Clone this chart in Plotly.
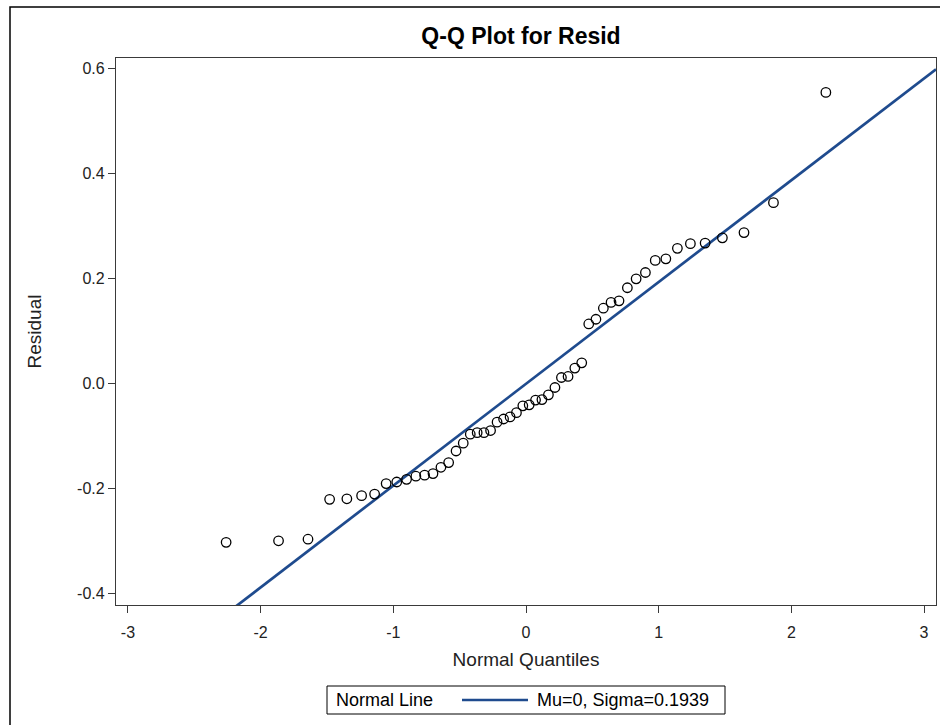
import plotly.graph_objects as go

# Normal quantiles (x) and sorted residuals (y)
normal_quantiles = [
    -2.260, -1.865, -1.643, -1.480, -1.350, -1.239, -1.141, -1.054, -0.974, -0.900,
    -0.830, -0.764, -0.701, -0.641, -0.583, -0.527, -0.473, -0.420, -0.368, -0.317,
    -0.267, -0.218, -0.169, -0.120, -0.072, -0.024,
    0.024, 0.072, 0.120, 0.169, 0.218, 0.267, 0.317, 0.368, 0.420, 0.473,
    0.527, 0.583, 0.641, 0.701, 0.764, 0.830, 0.900, 0.974, 1.054, 1.141,
    1.239, 1.350, 1.480, 1.643, 1.865, 2.260,
]
residuals = [
    -0.302, -0.299, -0.296, -0.220, -0.219, -0.213, -0.210, -0.190, -0.187, -0.182,
    -0.176, -0.174, -0.171, -0.159, -0.150, -0.128, -0.113, -0.096, -0.093, -0.093,
    -0.089, -0.073, -0.067, -0.063, -0.055, -0.042,
    -0.040, -0.031, -0.030, -0.021, -0.007, 0.012, 0.014, 0.030, 0.040, 0.114,
    0.123, 0.144, 0.155, 0.158, 0.183, 0.200, 0.212, 0.235, 0.238, 0.258,
    0.267, 0.268, 0.278, 0.288, 0.345, 0.555,
]

NORMAL_MU = 0.0
NORMAL_SIGMA = 0.1939
legend_title = "Normal Line"
legend_label = "Mu=0, Sigma=0.1939"

x_tick_vals = [-3, -2, -1, 0, 1, 2, 3]
x_tick_text = ["-3", "-2", "-1", "0", "1", "2", "3"]
y_tick_vals = [-0.4, -0.2, 0.0, 0.2, 0.4, 0.6]
y_tick_text = ["-0.4", "-0.2", "0.0", "0.2", "0.4", "0.6"]

x_range = [-3.09, 3.09]
y_range = [-0.4213, 0.6206]

line_x = x_range
line_y = [NORMAL_MU + NORMAL_SIGMA * v for v in line_x]

FONT = "Liberation Sans, Arial, sans-serif"
TEXT = "#222222"
AXIS = "#3a3a3a"
LINE_COLOR = "#1f4b8e"

fig = go.Figure()

fig.add_trace(go.Scatter(
    x=line_x, y=line_y, mode="lines",
    line=dict(color=LINE_COLOR, width=2.7),
    name=legend_label,
    showlegend=False,
    hoverinfo="skip",
))

fig.add_trace(go.Scatter(
    x=normal_quantiles, y=residuals, mode="markers",
    marker=dict(symbol="circle-open", size=9.5, color="black",
                line=dict(color="black", width=1.3)),
    showlegend=False,
    name="Resid",
))

W, H = 940, 725
L, R, T, B = 116, 4, 58, 120
pw = W - L - R
ph = H - T - B


def px_x(px):
    return (px - L) / pw


def px_y(py):
    return (H - B - py) / ph


# legend box drawn with shapes/annotations (pixel layout)
LEG_L, LEG_R, LEG_T, LEG_B = 327, 725, 686, 714
LEG_CY = (LEG_T + LEG_B) / 2

fig.update_layout(
    width=W, height=H,
    margin=dict(l=L, r=R, t=T, b=B, autoexpand=False),
    paper_bgcolor="white",
    plot_bgcolor="white",
    font=dict(family=FONT, size=16, color=TEXT),
    showlegend=False,
    title=dict(
        text="<b>Q-Q Plot for Resid</b>",
        x=px_x(521), xref="paper", xanchor="center",
        y=1 - 36 / H, yref="container", yanchor="middle",
        font=dict(family=FONT, size=23, color="black"),
    ),
    xaxis=dict(
        range=x_range,
        tickvals=x_tick_vals, ticktext=x_tick_text,
        ticks="outside", ticklen=7, tickwidth=1, tickcolor=AXIS,
        ticklabelstandoff=6,
        showline=True, linecolor=AXIS, linewidth=1.2, mirror=True,
        showgrid=False, zeroline=False,
        tickfont=dict(family=FONT, size=16, color=TEXT),
        title=dict(text="Normal Quantiles", standoff=12,
                   font=dict(family=FONT, size=19, color=TEXT)),
    ),
    yaxis=dict(
        range=y_range,
        tickvals=y_tick_vals, ticktext=y_tick_text,
        ticks="outside", ticklen=7, tickwidth=1, tickcolor=AXIS,
        showline=True, linecolor=AXIS, linewidth=1.2, mirror=True,
        showgrid=False, zeroline=False,
        tickfont=dict(family=FONT, size=16, color=TEXT),
        title=dict(text="Residual", standoff=30,
                   font=dict(family=FONT, size=19, color=TEXT)),
    ),
    shapes=[
        # outer frame of the graph
        dict(type="rect", xref="paper", yref="paper",
             x0=px_x(10), x1=px_x(960), y0=px_y(760), y1=px_y(7),
             line=dict(color="black", width=1.5), fillcolor="rgba(0,0,0,0)",
             layer="below"),
        # legend box
        dict(type="rect", xref="paper", yref="paper",
             x0=px_x(LEG_L), x1=px_x(LEG_R), y0=px_y(LEG_B), y1=px_y(LEG_T),
             line=dict(color="black", width=1), fillcolor="white"),
        # legend line sample
        dict(type="line", xref="paper", yref="paper",
             x0=px_x(462), x1=px_x(528), y0=px_y(LEG_CY), y1=px_y(LEG_CY),
             line=dict(color=LINE_COLOR, width=2.7)),
    ],
    annotations=[
        dict(text=legend_title, xref="paper", yref="paper",
             x=px_x(334), y=px_y(LEG_CY), xanchor="left", yanchor="middle",
             showarrow=False, font=dict(family=FONT, size=18, color="black")),
        dict(text=legend_label, xref="paper", yref="paper",
             x=px_x(535), y=px_y(LEG_CY), xanchor="left", yanchor="middle",
             showarrow=False, font=dict(family=FONT, size=18, color="black")),
    ],
)

fig.write_html("out.html", config={"displayModeBar": False},
               post_script="document.body.style.margin='0px';")
